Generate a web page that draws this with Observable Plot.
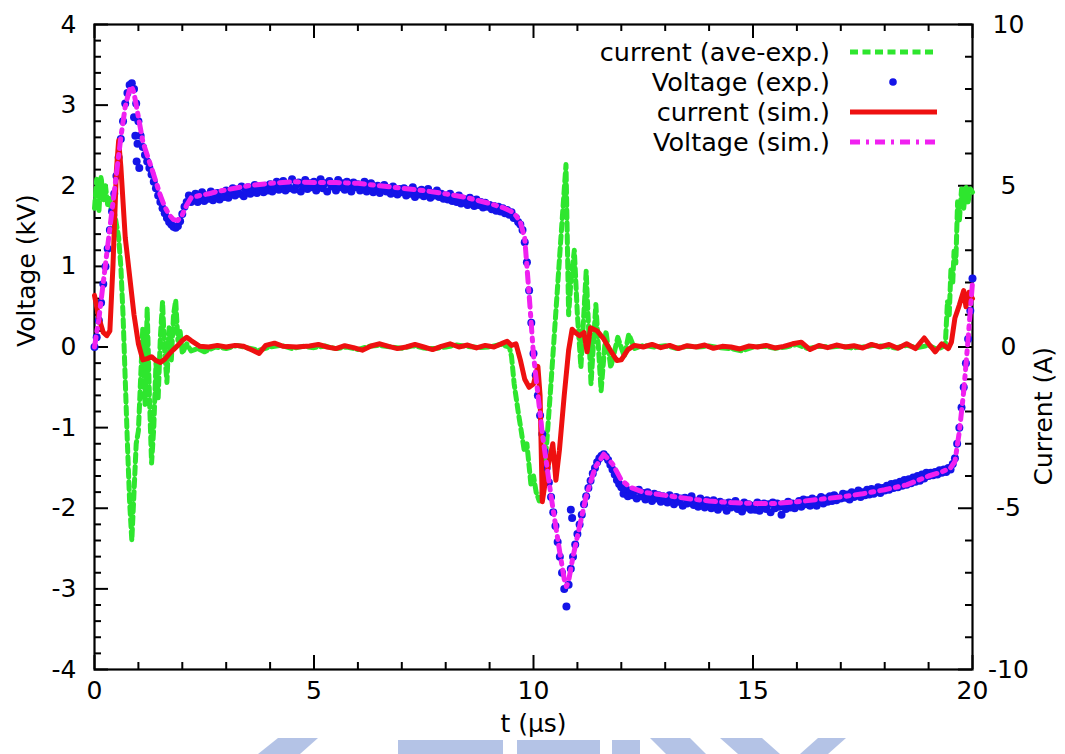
<!DOCTYPE html>
<html><head><meta charset="utf-8">
<script src="https://cdn.jsdelivr.net/npm/d3@7"></script>
<script src="https://cdn.jsdelivr.net/npm/@observablehq/plot@0.6"></script>
<style>body{margin:0;background:#fff}#chart{width:1065px;height:754px}</style>
</head><body><div id="chart"></div>
<script>
// ---------- data ----------
// Voltage (exp.) in kV, sampled every 0.05 µs
const expStep = 0.05;
const expV_0_5 = [
 0.0,0.12,0.33,0.55,0.78,1.0,1.22,1.45,1.68,1.9,2.12,2.35,2.58,2.8,3.02,3.15,3.25,3.27,3.2,3.02,
 2.8,2.62,2.48,2.38,2.3,2.22,2.14,2.05,1.97,1.88,1.8,1.72,1.66,1.6,1.55,1.52,1.49,1.48,1.5,1.56,
 1.65,1.74,1.8,1.88,1.8,1.85,1.9,1.8,1.86,1.92,1.81,1.88,1.84,1.93,1.82,1.87,1.91,1.83,1.9,1.86,
 1.94,1.85,1.92,1.97,1.88,1.95,1.9,1.99,1.87,1.94,1.98,1.9,1.96,2.01,1.91,1.95,1.99,1.92,2.0,1.94,
 2.02,1.93,1.99,2.05,1.95,2.0,2.06,1.94,2.02,1.97,2.08,1.95,2.01,2.04,1.93,2.0,2.07,1.96,2.03,1.98];
const expV_5_10 = [
 2.05,1.94,2.0,2.08,1.97,2.03,1.93,2.06,1.99,2.02,1.94,2.07,1.98,2.03,1.95,2.05,1.99,1.93,2.04,1.98,
 2.02,1.94,1.99,2.05,1.93,1.98,2.03,1.92,1.97,2.0,1.91,1.96,2.01,1.93,1.97,1.9,1.99,1.94,1.89,1.96,
 1.92,1.97,1.88,1.94,1.9,1.98,1.86,1.93,1.89,1.95,1.87,1.92,1.96,1.85,1.91,1.88,1.94,1.86,1.9,1.84,
 1.88,1.83,1.9,1.81,1.86,1.8,1.88,1.78,1.84,1.8,1.76,1.85,1.79,1.75,1.83,1.76,1.8,1.73,1.79,1.74,
 1.76,1.71,1.75,1.69,1.74,1.68,1.72,1.66,1.7,1.64,1.67,1.6,1.6,1.55,1.52,1.45,1.3,1.05,0.7,0.3];
const expV_10_15 = [
 -0.08,-0.35,-0.6,-0.85,-1.08,-1.3,-1.5,-1.68,-1.86,-2.05,-2.22,-2.42,-2.6,-2.8,-3.0,-3.22,-2.95,-2.75,-2.6,-2.45,
 -2.32,-2.2,-2.08,-1.95,-1.85,-1.75,-1.66,-1.57,-1.5,-1.43,-1.38,-1.35,-1.33,-1.36,-1.4,-1.46,-1.52,-1.58,-1.65,-1.7,
 -1.74,-1.82,-1.76,-1.85,-1.78,-1.84,-1.79,-1.88,-1.77,-1.85,-1.81,-1.89,-1.8,-1.86,-1.91,-1.82,-1.88,-1.84,-1.92,-1.85,
 -1.88,-1.93,-1.84,-1.9,-1.95,-1.86,-1.92,-1.88,-1.97,-1.87,-1.94,-1.9,-1.85,-1.96,-1.91,-1.98,-1.88,-1.93,-1.99,-1.9,
 -1.95,-2.0,-1.9,-1.97,-2.02,-1.92,-1.98,-1.94,-2.03,-1.93,-1.99,-1.95,-1.91,-2.01,-1.96,-2.04,-1.93,-1.99,-1.95,-2.02];
const expV_15_20 = [
 -1.97,-2.02,-1.93,-2.03,-1.98,-1.94,-2.01,-1.95,-2.05,-1.93,-2.0,-1.94,-1.98,-2.08,-1.95,-2.01,-1.92,-1.99,-1.94,-2.0,
 -1.96,-1.91,-1.98,-1.89,-1.95,-1.9,-1.97,-1.88,-1.93,-1.97,-1.89,-1.86,-1.94,-1.88,-1.92,-1.85,-1.91,-1.84,-1.9,-1.87,
 -1.88,-1.82,-1.87,-1.83,-1.89,-1.8,-1.86,-1.84,-1.78,-1.86,-1.8,-1.84,-1.77,-1.83,-1.76,-1.82,-1.79,-1.74,-1.81,-1.75,
 -1.78,-1.72,-1.77,-1.7,-1.75,-1.69,-1.74,-1.67,-1.72,-1.65,-1.71,-1.64,-1.69,-1.62,-1.67,-1.6,-1.66,-1.58,-1.63,-1.56,
 -1.6,-1.56,-1.59,-1.55,-1.58,-1.53,-1.56,-1.52,-1.55,-1.5,-1.52,-1.45,-1.38,-1.2,-1.0,-0.75,-0.5,-0.2,0.1,0.45,
 0.85];
// a few scattered experimental voltage points [t µs, kV]
const expOutliers = [[0.9,2.85],[0.93,2.62],[0.96,2.3],[0.98,2.52],[1.02,2.22],[10.85,-2.02],[10.88,-2.12]];

// Voltage (sim.) [t µs, kV]
const simVoltage = [[0,0],[0.1,0.35],[0.2,0.8],[0.3,1.25],[0.4,1.7],[0.5,2.15],[0.6,2.6],[0.7,2.98],[0.8,3.2],[0.85,3.23],
 [0.9,3.15],[1.0,2.85],[1.1,2.55],[1.2,2.38],[1.3,2.22],[1.4,2.05],[1.5,1.88],[1.6,1.74],[1.7,1.64],[1.8,1.58],
 [1.9,1.57],[2.0,1.64],[2.1,1.76],[2.2,1.85],[2.4,1.88],[2.6,1.9],[2.8,1.93],[3.0,1.95],[3.5,2.0],[4.0,2.03],
 [4.5,2.05],[5.0,2.04],[5.5,2.04],[6.0,2.03],[6.5,2.0],[7.0,1.97],[7.5,1.94],[8.0,1.9],[8.5,1.85],[9.0,1.78],
 [9.3,1.73],[9.5,1.68],[9.6,1.63],[9.7,1.55],[9.8,1.35],[9.9,0.65],[10.0,-0.1],[10.2,-1.07],[10.4,-1.85],[10.6,-2.55],
 [10.7,-2.88],[10.75,-2.97],[10.8,-2.9],[10.9,-2.6],[11.0,-2.35],[11.1,-2.1],[11.2,-1.85],[11.4,-1.5],[11.6,-1.33],[11.8,-1.45],
 [12.0,-1.65],[12.2,-1.74],[12.5,-1.8],[13.0,-1.84],[13.5,-1.88],[14.0,-1.91],[14.5,-1.93],[15.0,-1.94],[15.5,-1.94],[16.0,-1.92],
 [16.5,-1.89],[17.0,-1.86],[17.5,-1.82],[18.0,-1.77],[18.5,-1.71],[19.0,-1.6],[19.3,-1.55],[19.5,-1.5],[19.6,-1.42],[19.7,-1.05],
 [19.8,-0.55],[19.9,0.1],[20.0,0.8]];

// current (sim.) [t µs, A]
const simCurrent = [[0,1.6],[0.1,0.9],[0.2,0.45],[0.28,0.35],[0.35,0.5],[0.42,2.5],[0.5,5.5],[0.55,6.4],[0.6,5.6],[0.7,3.4],
 [0.8,2.2],[0.9,1.0],[1.0,0.1],[1.1,-0.4],[1.2,-0.36],[1.3,-0.3],[1.4,-0.42],[1.5,-0.48],[1.6,-0.38],[1.7,-0.22],
 [1.8,-0.08],[1.9,0.05],[2.0,0.2],[2.1,0.3],[2.2,0.2],[2.4,0.02],[2.6,0.0],[2.8,0.05],[3.0,0.0],[3.2,0.05],
 [3.4,0.02],[3.6,-0.1],[3.75,-0.2],[3.9,0.05],[4.1,0.12],[4.3,0.02],[4.6,0.0],[4.9,0.03],[5.1,0.08],[5.3,0.0],
 [5.5,-0.05],[5.7,0.04],[5.9,-0.02],[6.1,-0.1],[6.3,0.03],[6.5,0.1],[6.7,0.02],[6.9,-0.05],[7.1,0.0],[7.3,0.08],
 [7.5,0.0],[7.7,-0.08],[7.9,0.02],[8.1,0.1],[8.3,0.0],[8.5,0.06],[8.7,-0.03],[8.9,0.05],[9.1,0.0],[9.3,0.12],
 [9.4,0.18],[9.5,0.05],[9.6,0.1],[9.7,-0.4],[9.8,-1.0],[9.9,-1.25],[10.0,-1.15],[10.1,-0.6],[10.15,-1.5],[10.2,-4.8],
 [10.3,-3.9],[10.44,-3.0],[10.51,-4.13],[10.59,-3.2],[10.7,-1.5],[10.8,-0.1],[10.88,0.55],[10.95,0.45],[11.05,0.35],[11.15,0.45],
 [11.22,-0.15],[11.3,0.6],[11.45,0.5],[11.6,0.25],[11.75,-0.1],[11.9,-0.42],[12.0,-0.4],[12.15,-0.08],[12.3,0.05],[12.5,0.0],
 [12.7,0.08],[12.9,-0.02],[13.1,0.05],[13.3,-0.05],[13.5,0.04],[13.7,0.0],[13.9,0.06],[14.1,-0.04],[14.3,0.02],[14.5,0.0],
 [14.7,-0.06],[14.9,0.03],[15.1,0.0],[15.3,0.05],[15.5,-0.03],[15.7,0.02],[15.9,0.1],[16.1,0.15],[16.3,-0.08],[16.5,0.05],
 [16.7,-0.02],[16.9,0.06],[17.1,0.0],[17.3,0.04],[17.5,-0.03],[17.7,0.08],[17.9,0.0],[18.1,0.08],[18.3,-0.04],[18.5,0.1],
 [18.7,-0.05],[18.9,0.28],[19.0,0.1],[19.15,-0.15],[19.3,0.1],[19.45,-0.05],[19.52,0.15],[19.6,0.9],[19.7,1.3],[19.8,1.75],
 [19.85,1.25],[19.92,1.7],[20.0,1.5]];

// current (ave-exp.) [t µs, A]
const expCurrent = [[0,4.3],[0.05,5.2],[0.1,4.2],[0.15,5.3],[0.2,4.5],[0.25,5.0],[0.3,4.4],[0.35,4.6],[0.4,4.0],[0.45,4.2],
 [0.5,3.8],[0.55,3.4],[0.6,2.5],[0.65,1.0],[0.7,-1.0],[0.75,-3.0],[0.8,-4.8],[0.85,-6.0],[0.9,-4.5],[0.95,-3.0],
 [1.0,-2.6],[1.05,-1.0],[1.1,0.6],[1.15,-1.8],[1.2,1.2],[1.25,-1.5],[1.3,-3.6],[1.35,-2.5],[1.4,-0.5],[1.45,-1.6],
 [1.5,0.3],[1.55,1.4],[1.6,-0.2],[1.65,-1.1],[1.7,0.6],[1.75,-0.4],[1.8,1.0],[1.85,1.45],[1.9,0.2],[1.95,0.5],
 [2.0,-0.2],[2.1,0.1],[2.2,-0.12],[2.35,-0.05],[2.5,-0.15],[2.75,0.0],[3.0,-0.05],[3.25,0.05],[3.5,-0.03],[3.75,-0.1],
 [4.0,0.0],[4.25,0.05],[4.5,-0.05],[4.75,0.02],[5.0,-0.02],[5.25,0.03],[5.5,-0.05],[5.75,0.0],[6.0,-0.08],[6.25,0.02],
 [6.5,0.05],[6.75,0.0],[7.0,-0.04],[7.25,0.04],[7.5,-0.03],[7.75,-0.05],[8.0,0.0],[8.25,0.06],[8.5,0.02],[8.75,-0.02],
 [9.0,0.0],[9.25,0.08],[9.45,0.0],[9.5,-0.3],[9.56,-1.15],[9.65,-2.0],[9.72,-2.6],[9.79,-3.22],[9.85,-3.0],[9.94,-4.25],
 [10.0,-4.0],[10.06,-4.5],[10.13,-4.77],[10.2,-4.5],[10.3,-3.0],[10.4,-1.1],[10.5,0.9],[10.6,2.9],[10.74,5.66],[10.8,1.0],
 [10.85,2.0],[10.93,3.0],[11.0,1.0],[11.08,-0.63],[11.2,2.35],[11.31,-1.15],[11.42,1.32],[11.54,-1.36],[11.65,0.5],[11.76,-0.64],
 [11.92,0.3],[12.07,-0.3],[12.17,0.4],[12.3,-0.05],[12.5,0.05],[12.75,0.0],[13.0,0.04],[13.25,-0.04],[13.5,0.02],[13.75,0.0],
 [14.0,0.03],[14.25,-0.02],[14.5,-0.05],[14.75,-0.12],[15.0,0.0],[15.25,0.02],[15.5,-0.04],[15.75,0.0],[16.0,0.08],[16.25,-0.05],
 [16.5,0.02],[16.75,0.0],[17.0,0.03],[17.25,-0.03],[17.5,0.0],[17.75,0.05],[18.0,0.02],[18.25,-0.03],[18.5,0.05],[18.75,-0.02],
 [19.0,0.05],[19.2,-0.08],[19.38,0.05],[19.43,1.42],[19.47,1.0],[19.51,2.45],[19.55,2.0],[19.58,2.97],[19.62,2.6],[19.66,4.5],
 [19.7,3.9],[19.75,4.9],[19.8,4.3],[19.85,5.0],[19.9,4.5],[19.95,4.9],[20.0,4.8]];

// axes
const xTickLabels = [0, 5, 10, 15, 20];
const vTickLabels = [-4, -3, -2, -1, 0, 1, 2, 3, 4];
const iTickLabels = [-10, -5, 0, 5, 10];
const ampsPerKV = 2.5; // right axis: ±10 A over ±4 kV
const legendLabels = ["current (ave-exp.)", "Voltage (exp.)", "current (sim.)", "Voltage (sim.)"];

// ---------- build ----------
const expV = [...expV_0_5, ...expV_5_10, ...expV_10_15, ...expV_15_20].map((v, i) => ({t: +(i * expStep).toFixed(2), v}));
const expPts = expV.concat(expOutliers.map(([t, v]) => ({t, v})));

const W = 1065, H = 754, mL = 94, mR = 93, mT = 24, mB = 85;
const fw = W - mL - mR, fh = H - mT - mB;
const C = {green: "#2ee62e", blue: "#1414e8", red: "#ee1010", magenta: "#f020f0"};
const FONT = "DejaVu Sans, Liberation Sans, Arial, sans-serif";
const DASH_GREEN = "8,4.5", DASH_MAG = "10,6,3,6";

const xMinor = d3.range(0, 20.001, 1).filter(d => d % 5 !== 0);
const vMinor = d3.range(-4, 4.001, 0.2).map(d => +d.toFixed(1)).filter(d => Math.abs(d - Math.round(d)) > 1e-6);
const iMinor = d3.range(-10, 10.001, 1).filter(d => d % 5 !== 0);

const tick = {stroke: "black", strokeWidth: 2};
const chart = Plot.plot({
  width: W, height: H, marginLeft: mL, marginRight: mR, marginTop: mT, marginBottom: mB,
  style: {fontFamily: FONT, fontSize: "25px", background: "white", color: "black"},
  x: {domain: [0, 20], axis: null},
  y: {domain: [-4, 4], axis: null},
  marks: [
    // inward gnuplot-style ticks
    Plot.tickY(vTickLabels, {y: d => d, insetRight: fw - 14, ...tick}),
    Plot.tickY(vMinor, {y: d => d, insetRight: fw - 7, ...tick}),
    Plot.tickY(iTickLabels, {y: d => d / ampsPerKV, insetLeft: fw - 14, ...tick}),
    Plot.tickY(iMinor, {y: d => d / ampsPerKV, insetLeft: fw - 7, ...tick}),
    Plot.tickX(xTickLabels, {x: d => d, insetTop: fh - 14, ...tick}),
    Plot.tickX(xMinor, {x: d => d, insetTop: fh - 7, ...tick}),
    Plot.tickX(xTickLabels, {x: d => d, insetBottom: fh - 14, ...tick}),
    Plot.tickX(xMinor, {x: d => d, insetBottom: fh - 7, ...tick}),
    Plot.frame({stroke: "black", strokeWidth: 2.2}),
    // data
    Plot.line(expCurrent, {x: d => d[0], y: d => d[1] / ampsPerKV, stroke: C.green, strokeWidth: 5, strokeDasharray: DASH_GREEN}),
    Plot.dot(expPts, {x: "t", y: "v", r: 4, fill: C.blue}),
    Plot.line(simCurrent, {x: d => d[0], y: d => d[1] / ampsPerKV, stroke: C.red, strokeWidth: 5, strokeLinejoin: "round"}),
    Plot.line(simVoltage, {x: d => d[0], y: d => d[1], stroke: C.magenta, strokeWidth: 5, strokeDasharray: DASH_MAG}),
    // tick labels
    Plot.text(xTickLabels, {x: d => d, frameAnchor: "bottom", dy: 29, text: d => String(d)}),
    Plot.text(vTickLabels, {y: d => d, frameAnchor: "left", dx: -18, textAnchor: "end", text: d => String(d)}),
    Plot.text(iTickLabels, {y: d => d / ampsPerKV, frameAnchor: "right", dx: 36, textAnchor: "middle", text: d => String(d)}),
    // axis titles
    Plot.text(["t (μs)"], {frameAnchor: "bottom", dy: 62, text: d => d}),
    Plot.text(["Voltage (kV)"], {frameAnchor: "left", dx: -68, rotate: -90, text: d => d}),
    Plot.text(["Current (A)"], {frameAnchor: "right", dx: 71, rotate: -90, text: d => d})
  ]
});
document.getElementById("chart").appendChild(chart);

// ---------- legend (top right, inside frame) ----------
const svg = d3.select(chart);
const right = W - mR;
const lg = svg.append("g").attr("font-family", FONT).attr("font-size", 25.5);
const styles = [
  {stroke: C.green, dash: DASH_GREEN},
  {dot: true},
  {stroke: C.red, dash: null},
  {stroke: C.magenta, dash: DASH_MAG}
];
legendLabels.forEach((lab, i) => {
  const y = mT + 28 + 30 * i;
  lg.append("text").attr("x", right - 142).attr("y", y).attr("dy", "0.35em")
    .attr("text-anchor", "end").attr("fill", "black").text(lab);
  const s = styles[i];
  if (s.dot) {
    lg.append("circle").attr("cx", right - 79).attr("cy", y).attr("r", 3.8).attr("fill", C.blue);
  } else {
    const l = lg.append("line").attr("x1", right - 122).attr("x2", right - 35)
      .attr("y1", y).attr("y2", y).attr("stroke", s.stroke).attr("stroke-width", 5);
    if (s.dash) l.attr("stroke-dasharray", s.dash);
  }
});

// ---------- faint watermark strip at the bottom edge ----------
const wm = svg.append("g").attr("fill", "#b4c3e6");
const wmShapes = [
  [[258,754],[278,738],[318,738],[300,754]],
  [[398,740],[503,740],[503,754],[398,754]],
  [[517,740],[600,740],[600,754],[517,754]],
  [[612,740],[640,740],[640,754],[612,754]],
  [[650,738],[690,738],[706,754],[666,754]],
  [[720,738],[762,738],[780,754],[738,754]],
  [[800,754],[818,738],[846,738],[828,754]]
];
wmShapes.forEach(p => wm.append("polygon").attr("points", p.map(q => q.join(",")).join(" ")));
</script></body></html>
